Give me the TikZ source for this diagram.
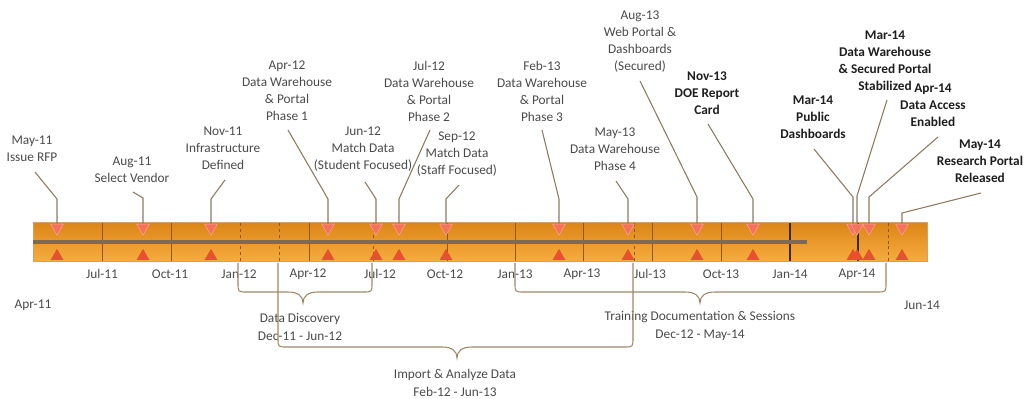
\documentclass[tikz,border=0pt]{standalone}
\usepackage{fontspec}
\setmainfont{Carlito}
\usetikzlibrary{shapes.geometric,calc}
\pgfdeclarelayer{front}
\pgfsetlayers{main,front}

\definecolor{txtc}{HTML}{4A4A4A}
\definecolor{txtb}{HTML}{1E1E1E}
\definecolor{leadc}{HTML}{8C7A62}
\definecolor{bracec}{HTML}{9C8768}
\definecolor{bartop}{HTML}{DB8618}
\definecolor{barmid}{HTML}{CC7610}
\definecolor{barbot}{HTML}{F8AC3E}
\definecolor{baredge}{HTML}{D8A060}
\definecolor{stripe}{HTML}{7A6A56}
\definecolor{tickc}{HTML}{94560E}
\definecolor{tickd}{HTML}{3A2810}
\definecolor{mkd}{HTML}{F4715C}
\definecolor{mkdl}{HTML}{F9A48F}
\definecolor{mku}{HTML}{E8512F}

\tikzset{
  lbl/.style={align=center, inner sep=0pt, text=txtc,
    font=\fontsize{10}{12.75}\selectfont},
  blbl/.style={align=center, inner sep=0pt, text=txtb,
    font=\fontsize{10}{12.75}\selectfont\bfseries},
  axislbl/.style={inner sep=0pt, text=txtc, font=\fontsize{10}{12}\selectfont},
  spanlbl/.style={align=center, inner sep=0pt, text=txtc,
    font=\fontsize{10}{13.5}\selectfont},
  mkdown/.style={regular polygon, regular polygon sides=3,
    shape border rotate=180, minimum size=11pt, inner sep=0pt,
    fill=mkd, draw=mkdl, line width=0.4pt},
  mkup/.style={regular polygon, regular polygon sides=3,
    minimum size=11pt, inner sep=0pt, fill=mku},
  leader/.style={draw=leadc, line width=0.8pt},
  brace/.style={draw=bracec, line width=0.8pt},
  qtick/.style={draw=tickc, line width=0.6pt},
  qdark/.style={draw=tickd, line width=1pt},
  qdash/.style={draw=tickc, line width=0.6pt, dash pattern=on 2.2pt off 2.2pt},
}

\begin{document}
\begin{tikzpicture}[x=0.75pt,y=-0.75pt]
\useasboundingbox (0,0) rectangle (1026,399);

% timeline bar
\shade[top color=bartop, middle color=barmid, bottom color=barbot]
  (33,222.5) rectangle (927,261.5);
\draw[baredge, line width=0.6pt] (33,222.5) rectangle (927,261.5);

% quarter and span markers inside the bar
\foreach \x in {102,171,309,447,515,583,652,721}
  \draw[qtick] (\x,223) -- (\x,261);
\foreach \x in {790,858}
  \draw[qdark] (\x,223) -- (\x,261);
\foreach \x in {240,279,373,634,888}
  \draw[qdash] (\x,223) -- (\x,261);

% grey centre stripe
\fill[stripe] (33,240) rectangle (807,244.5);

% axis labels
\node[axislbl] (aJul11) at (102,274) {Jul-11};
\node[axislbl] (aOct11) at (170,274) {Oct-11};
\node[axislbl] (aJan12) at (239,274) {Jan-12};
\node[axislbl] (aApr12) at (308,274) {Apr-12};
\node[axislbl] (aJul12) at (380,274) {Jul-12};
\node[axislbl] (aOct12) at (445,274) {Oct-12};
\node[axislbl] (aJan13) at (515,274) {Jan-13};
\node[axislbl] (aApr13) at (582,274) {Apr-13};
\node[axislbl] (aJul13) at (650,274) {Jul-13};
\node[axislbl] (aOct13) at (721,274) {Oct-13};
\node[axislbl] (aJan14) at (790,274) {Jan-14};
\node[axislbl] (aApr14) at (857,274) {Apr-14};
\node[axislbl] (aStart) at (33,305) {Apr-11};
\node[axislbl] (aEnd) at (922,305) {Jun-14};

% milestone markers (drawn in front of the leaders)
\begin{pgfonlayer}{front}
\foreach \n/\x in {1/57,2/143,3/211,4/328,5/376,6/399,7/446,8/559,
                   9/628,10/697,11/753,12/853,13/857,14/869,15/902}{
  \node[mkdown] (d\n) at (\x,227.8) {};
  \node[mkup] (u\n) at (\x,256.2) {};
}
\end{pgfonlayer}

% milestone labels
\node[lbl] (m1) at (32,149) {May-11\\Issue RFP};
\node[lbl] (m2) at (132,170) {Aug-11\\Select Vendor};
\node[lbl] (m3) at (223,148.5) {Nov-11\\Infrastructure\\Defined};
\node[lbl] (m4) at (287,91) {Apr-12\\Data Warehouse\\\& Portal\\Phase 1};
\node[lbl] (m5) at (363,149.5) {Jun-12\\Match Data\\(Student Focused)};
\node[lbl] (m6) at (429,91) {Jul-12\\Data Warehouse\\\& Portal\\Phase 2};
\node[lbl] (m7) at (457,154) {Sep-12\\Match Data\\(Staff Focused)};
\node[lbl] (m8) at (542,91) {Feb-13\\Data Warehouse\\\& Portal\\Phase 3};
\node[lbl] (m9) at (615,149) {May-13\\Data Warehouse\\Phase 4};
\node[lbl] (m10) at (640,41.5) {Aug-13\\Web Portal \&\\Dashboards\\(Secured)};
\node[blbl] (m11) at (707,93) {Nov-13\\DOE Report\\Card};
\node[blbl] (m12) at (813,117.5) {Mar-14\\Public\\Dashboards};
\node[blbl] (m13) at (885,60.5) {Mar-14\\Data Warehouse\\\& Secured Portal\\Stabilized};
\node[blbl] (m14) at (933,105) {Apr-14\\Data Access\\Enabled};
\node[blbl] (m15) at (980,161.5) {May-14\\Research Portal\\Released};

% leader start and bend points
\foreach \n/\sx/\sy/\bx/\by in {
   1/35/172/57/199, 2/133/192/143/198, 3/225/180/211/199,
   4/288/130/328/199, 5/365/182/376/199, 6/430/130/399/199,
   7/459/185/446/199, 8/542/130/559/199, 9/616/181/628/199,
   10/640/81/697/197, 11/708/124/753/199, 12/814/149/853/197,
   13/887/100/857/196, 14/938/137/869/197, 15/981/193/902/213}{
  \coordinate (s\n) at (\sx,\sy);
  \coordinate (b\n) at (\bx,\by);
}
\foreach \n in {1,...,15}
  \draw[leader] (s\n) -- (b\n) -- (d\n.center);

% span braces
\coordinate (ddL) at (238,263);  \coordinate (ddR) at (372,263);
\coordinate (ddT) at (303,303);
\coordinate (iaL) at (278,263);  \coordinate (iaR) at (633,263);
\coordinate (iaT) at (457,358);
\coordinate (trL) at (515,263);  \coordinate (trR) at (886,263);
\coordinate (trT) at (700,303);

\node[spanlbl] (dd) at (300,326.5) {Data Discovery\\Dec-11 - Jun-12};
\node[spanlbl] (ia) at (455,382.5) {Import \& Analyze Data\\Feb-12 - Jun-13};
\node[spanlbl] (tr) at (700,326) {Training Documentation \& Sessions\\Dec-12 - May-14};

\foreach \L/\R/\T/\h in {ddL/ddR/ddT/292, iaL/iaR/iaT/347, trL/trR/trT/292}{
  \draw[brace]
    (\L) -- ($(\L |- 0,\h)+(0,-9)$)
    .. controls (\L |- 0,\h) .. ($(\L |- 0,\h)+(9,0)$)
    -- ($(\T |- 0,\h)+(-15,0)$)
    .. controls ($(\T |- 0,\h)+(-5,0)$) and ($(\T |- 0,\h)+(0,4)$) .. (\T)
    .. controls ($(\T |- 0,\h)+(0,4)$) and ($(\T |- 0,\h)+(5,0)$) ..
    ($(\T |- 0,\h)+(15,0)$)
    -- ($(\R |- 0,\h)+(-9,0)$)
    .. controls (\R |- 0,\h) .. ($(\R |- 0,\h)+(0,-9)$) -- (\R);
}
\end{tikzpicture}
\end{document}
